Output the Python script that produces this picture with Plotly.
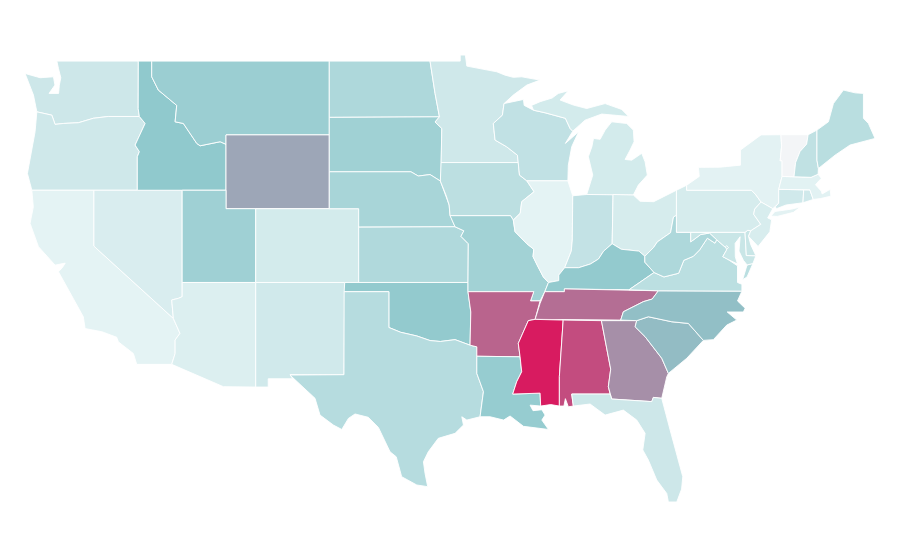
import plotly.graph_objects as go
from plotly.colors import sample_colorscale

states = ["WA","OR","CA","NV","ID","MT","WY","UT","AZ","CO","NM","ND","SD","NE","KS","OK","TX","MN","IA","MO","AR","LA","WI","IL","IN","MI","OH","KY","TN","MS","AL","GA","FL","SC","NC","VA","WV","MD","DC","DE","PA","NY","NJ","CT","RI","MA","VT","NH","ME"]
values = [16.2,15.3,6,10.9,43,38.3,55,36.5,9.5,13.5,14.8,29.9,36,32.5,29,42,26.3,15.3,23.7,35,76.5,40.5,21.5,6,20.7,13.5,12.2,41.8,73,100,84,62.5,16.2,48,47,24.1,29.9,17.9,17.9,17.9,12.2,6.5,11.3,14.8,14.8,7,0,22,25]
colorscale = [[0,"#f3f5f7"],[0.06,"#e4f3f4"],[0.44,"#8ec8cc"],[1,"#d81b60"]]

# State outlines as (longitude, latitude) rings; a state with several parts has several rings.
outlines = {
"WA":[[(-124.73,48.33),(-123.71,48.1),(-122.8,48.15),(-122.7,47.7),(-123.1,47.25),(-122.45,47.25),(-122.4,47.7),(-122.3,48.1),(-122.46,48.6),(-122.57,49),(-117.03,49),(-117.04,46.42),(-116.96,46),(-119.07,46),(-120.09,45.9),(-121.1,45.66),(-122.13,45.62),(-122.69,45.57),(-122.91,46.07),(-123.93,46.25),(-124.16,47.16),(-124.5,47.88)]],
"OR":[[(-123.93,46.25),(-122.91,46.07),(-122.69,45.57),(-122.13,45.62),(-121.1,45.66),(-120.09,45.9),(-119.07,46),(-116.96,46),(-116.57,45.62),(-117.25,44.45),(-116.96,44.09),(-117.1,43.82),(-117.1,42),(-124.27,42),(-124.57,42.91),(-124.05,45.17)]],
"CA":[[(-124.27,42),(-120.05,42),(-120.05,38.97),(-114.65,35.05),(-114.2,34.24),(-114.53,33.88),(-114.53,33.15),(-114.76,32.56),(-117.14,32.56),(-117.37,33.15),(-118.39,33.78),(-118.5,34.03),(-119.51,34.33),(-120.65,34.5),(-120.77,35.14),(-121.8,36.6),(-122.13,37.04),(-122.46,37.58),(-122.2,37.8),(-122.0,38.05),(-122.69,37.94),(-123.82,38.94),(-124.39,40.2),(-124.17,41.1)]],
"NV":[[(-120.05,42),(-114.05,42),(-114.05,36.23),(-114.3,36.14),(-114.76,36.05),(-114.65,35.05),(-120.05,38.97)]],
"ID":[[(-117.03,49),(-116.12,49),(-116.12,48.15),(-115.67,47.43),(-114.99,46.98),(-114.42,46.6),(-114.53,45.71),(-113.97,45.62),(-113.06,44.54),(-112.83,44.41),(-111.47,44.63),(-111.07,44.49),(-111.07,42),(-117.1,42),(-117.1,43.82),(-116.96,44.09),(-117.25,44.45),(-116.57,45.62),(-116.96,46),(-117.04,46.42)]],
"MT":[[(-116.12,49),(-104.05,49),(-104.05,45),(-111.07,45),(-111.07,44.49),(-111.47,44.63),(-112.83,44.41),(-113.06,44.54),(-113.97,45.62),(-114.53,45.71),(-114.42,46.6),(-114.99,46.98),(-115.67,47.43),(-116.12,48.15)]],
"WY":[[(-111.07,45),(-104.05,45),(-104.05,41),(-111.07,41)]],
"UT":[[(-114.05,42),(-111.07,42),(-111.07,41),(-109.05,41),(-109.05,37),(-114.05,37)]],
"AZ":[[(-114.05,37),(-109.05,37),(-109.05,31.33),(-111.25,31.35),(-114.76,32.56),(-114.53,33.15),(-114.53,33.88),(-114.2,34.24),(-114.65,35.05),(-114.76,36.05),(-114.3,36.14),(-114.05,36.23)]],
"CO":[[(-109.05,41),(-102.05,41),(-102.05,37),(-109.05,37)]],
"NM":[[(-109.05,37),(-103,37),(-103.05,32),(-106.72,32),(-106.53,31.78),(-108.2,31.78),(-108.2,31.33),(-109.05,31.33)]],
"ND":[[(-104.05,49),(-97.2,49),(-96.86,47.25),(-96.56,45.98),(-104.05,45.95)]],
"SD":[[(-104.05,45.95),(-96.56,45.98),(-96.86,45.7),(-96.4,45.35),(-96.45,43),(-96.5,42.5),(-97.2,42.85),(-98,42.77),(-98.5,43),(-104.05,43)]],
"NE":[[(-104.05,43),(-98.5,43),(-98,42.77),(-97.2,42.85),(-96.5,42.5),(-96.1,41.7),(-95.9,41.2),(-95.84,40.65),(-95.5,40.02),(-102.05,40),(-102.05,41),(-104.05,41)]],
"KS":[[(-102.05,40),(-95.5,40.02),(-94.9,39.8),(-95.1,39.5),(-94.6,39.1),(-94.62,37),(-102.05,37)]],
"OK":[[(-103,37),(-94.62,37),(-94.62,36.5),(-94.43,35.4),(-94.48,33.6),(-95.5,33.9),(-96.5,33.8),(-97.2,33.85),(-98.1,34.1),(-99.2,34.3),(-100,34.56),(-100,36.5),(-103.04,36.5)]],
"TX":[[(-103.04,36.5),(-100,36.5),(-100,34.56),(-99.2,34.3),(-98.1,34.1),(-97.2,33.85),(-96.5,33.8),(-95.5,33.9),(-94.48,33.6),(-94.02,33.51),(-94.02,32.07),(-93.57,31.08),(-93.8,29.72),(-94.7,29.54),(-95.04,29.72),(-94.93,29.27),(-95.5,28.82),(-96.64,28.55),(-97.32,27.82),(-97.65,27.28),(-97.54,26.65),(-97.36,25.93),(-98.1,26.02),(-99.13,26.47),(-99.5,27.55),(-99.92,27.82),(-100.71,29.14),(-101.4,29.69),(-102.3,29.87),(-102.75,29.63),(-103.2,29.03),(-103.77,29.27),(-104.68,29.81),(-105.02,30.72),(-106.72,31.98),(-103.05,32)]],
"MN":[[(-97.2,49),(-95.15,49),(-95.15,49.33),(-94.8,49.33),(-94.7,48.73),(-93.8,48.6),(-92.66,48.42),(-92.1,48.24),(-91.54,48.12),(-90.97,48.15),(-89.72,47.97),(-90.62,47.7),(-91.54,47.16),(-92.17,46.7),(-92.28,46.07),(-92.9,45.62),(-92.78,44.72),(-92,44.36),(-91.26,43.9),(-91.2,43.5),(-96.45,43.5),(-96.4,45.35),(-96.86,45.7),(-96.56,45.98),(-96.86,47.25)]],
"IA":[[(-96.45,43.5),(-91.2,43.5),(-91.12,42.82),(-90.62,42.51),(-90.13,41.92),(-90.97,41.38),(-91.07,40.75),(-91.54,40.38),(-91.73,40.62),(-95.84,40.62),(-95.9,41.2),(-96.1,41.7),(-96.5,42.5),(-96.45,43)]],
"MO":[[(-95.84,40.62),(-91.73,40.62),(-91.54,40.38),(-91.42,39.75),(-90.62,39.1),(-90.15,38.8),(-90.2,38.4),(-89.9,37.9),(-89.5,37.3),(-89.15,37),(-89.4,36.5),(-89.72,36),(-90.37,36),(-90.15,36.5),(-94.62,36.5),(-94.62,37),(-94.6,39.1),(-95.1,39.5),(-94.9,39.8),(-95.5,40.02)]],
"AR":[[(-94.62,36.5),(-90.15,36.5),(-90.37,36),(-89.72,36),(-90.06,35),(-90.52,34.93),(-91.2,33.7),(-91.08,32.97),(-94.02,33),(-94.02,33.51),(-94.48,33.6),(-94.43,35.4)]],
"LA":[[(-94.02,33),(-91.08,32.97),(-90.97,32.16),(-91.31,31.62),(-91.58,30.95),(-89.72,31),(-89.68,30.3),(-90.4,30.35),(-90.2,30.05),(-89.6,30.1),(-89.38,29.81),(-89.6,29.54),(-89.15,29.03),(-90.05,29.14),(-90.85,29.2),(-91.76,29.76),(-92.2,29.54),(-93.12,29.72),(-93.8,29.72),(-93.57,31.08),(-94.02,32.07)]],
"WI":[[(-92.17,46.7),(-90.85,46.92),(-90.8,46.6),(-90.17,46.34),(-89.38,46.2),(-88,45.9),(-87.68,45.35),(-87.5,45.2),(-88,44.54),(-87.1,45.17),(-87.57,44.36),(-87.8,43.36),(-87.83,42.51),(-90.62,42.51),(-91.12,42.82),(-91.2,43.5),(-91.26,43.9),(-92,44.36),(-92.78,44.72),(-92.9,45.62),(-92.28,46.07)]],
"IL":[[(-90.62,42.51),(-87.83,42.51),(-87.5,41.7),(-87.53,39.3),(-87.6,38.7),(-87.95,38),(-88.05,37.8),(-88.45,37.4),(-88.45,37.1),(-89.15,37),(-89.5,37.3),(-89.9,37.9),(-90.2,38.4),(-90.15,38.8),(-90.62,39.1),(-91.42,39.75),(-91.54,40.38),(-91.07,40.75),(-90.97,41.38),(-90.13,41.92)]],
"IN":[[(-87.5,41.7),(-86.55,41.77),(-84.76,41.77),(-84.82,39.1),(-85.4,38.7),(-85.75,38.27),(-86.3,38),(-87.1,37.8),(-88.05,37.8),(-87.95,38),(-87.6,38.7),(-87.53,39.3)]],
"MI":[[(-86.55,41.77),(-84.76,41.77),(-83.38,41.74),(-83.04,42.28),(-82.43,42.82),(-82.58,43.54),(-82.81,44),(-83.49,43.63),(-83.94,43.67),(-83.6,44.18),(-83.33,44.63),(-83.38,45.26),(-83.83,45.62),(-84.85,45.71),(-85.3,45.26),(-85.64,44.76),(-86.09,44.81),(-86.2,44.36),(-86.44,43.82),(-86.14,42.82)],[(-90.3,46.6),(-89.72,46.8),(-88.9,47),(-88.48,47.25),(-87.8,47.39),(-88.36,46.89),(-87.46,46.62),(-86.55,46.43),(-85.3,46.7),(-84.17,46.38),(-83.7,46),(-84.85,46.07),(-85.53,46.13),(-86.66,45.8),(-87.5,45.2),(-87.68,45.35),(-88,45.9),(-89.38,46.2),(-90.17,46.34)]],
"OH":[[(-84.76,41.77),(-83.38,41.74),(-82.92,41.4),(-82,41.38),(-80.45,42),(-80.45,40.64),(-80.65,40.55),(-80.85,39.7),(-81.75,39.2),(-82,38.9),(-82.6,38.42),(-83,38.7),(-84.2,38.8),(-84.82,39.1)]],
"KY":[[(-89.4,36.5),(-89.15,37),(-88.45,37.1),(-88.45,37.4),(-88.05,37.8),(-87.1,37.8),(-86.3,38),(-85.75,38.27),(-85.4,38.7),(-84.82,39.1),(-84.2,38.8),(-83,38.7),(-82.6,38.42),(-82.6,38.1),(-81.97,37.54),(-83.68,36.6),(-88.07,36.65),(-88.07,36.5)]],
"TN":[[(-90.06,35),(-89.72,35.87),(-89.4,36.5),(-88.07,36.5),(-88.07,36.65),(-83.68,36.6),(-81.68,36.55),(-82.1,36.1),(-82.7,35.96),(-84.06,35.41),(-84.24,34.96)]],
"MS":[[(-90.06,35),(-88.15,34.96),(-88.41,31.9),(-88.41,30.3),(-89.0,30.38),(-89.68,30.3),(-89.72,31),(-91.58,30.95),(-91.31,31.62),(-90.97,32.16),(-91.08,32.97),(-91.2,33.7),(-90.52,34.93)]],
"AL":[[(-88.15,34.96),(-85.55,34.93),(-84.92,32.3),(-85.08,31.35),(-84.96,30.95),(-87.57,30.95),(-87.46,30.3),(-87.8,30.26),(-88,30.7),(-88.1,30.3),(-88.41,30.3),(-88.41,31.9)]],
"GA":[[(-85.55,34.93),(-83.15,34.93),(-83.26,34.6),(-82.58,34.06),(-81.45,32.89),(-81,32.07),(-81.11,31.88),(-81.45,30.72),(-82.02,30.77),(-82.13,30.54),(-84.85,30.68),(-84.96,30.95),(-85.08,31.35),(-84.92,32.3)]],
"FL":[[(-87.57,30.95),(-84.96,30.95),(-84.85,30.68),(-82.13,30.54),(-82.02,30.77),(-81.45,30.72),(-80.88,29),(-80.32,27.28),(-80.02,26.47),(-80.1,25.8),(-80.43,25.1),(-81,25.1),(-81.11,25.56),(-81.79,26.29),(-82.36,27.37),(-82.74,27.92),(-82.58,28.82),(-83.15,29.54),(-84.06,30.08),(-85.3,29.81),(-86.32,30.41),(-87.46,30.3)]],
"SC":[[(-83.26,34.6),(-83.15,34.93),(-82.36,35.14),(-80.77,34.87),(-79.64,34.78),(-78.62,33.86),(-79.75,32.89),(-81,32.07),(-81.45,32.89),(-82.58,34.06)]],
"NC":[[(-84.24,34.96),(-84.06,35.41),(-82.7,35.96),(-82.1,36.1),(-81.68,36.55),(-76,36.53),(-76.3,36),(-75.78,35.6),(-75.9,35.4),(-77,35.4),(-76.35,34.96),(-77.03,34.69),(-77.94,33.9),(-78.62,33.86),(-79.64,34.78),(-80.77,34.87),(-82.36,35.14),(-83.15,34.93)]],
"VA":[[(-83.68,36.6),(-81.97,37.54),(-81.3,37.3),(-80.3,37.5),(-79.95,38.2),(-79.3,38.42),(-78.87,38.77),(-78.35,39.4),(-77.83,39.13),(-77.72,39.32),(-77.05,38.85),(-77.05,38.75),(-77.3,38.4),(-76.95,38.25),(-76.3,37.9),(-76.3,37),(-76,36.9),(-76,36.53),(-81.68,36.55)],[(-75.95,37.15),(-75.65,37.95),(-75.25,38.03),(-75.65,37.3)]],
"WV":[[(-82.6,38.42),(-82,38.9),(-81.75,39.2),(-80.85,39.7),(-80.65,40.55),(-80.45,40.64),(-80.45,39.72),(-79.48,39.72),(-79.48,39.2),(-78.8,39.6),(-78.2,39.68),(-77.72,39.32),(-77.83,39.13),(-78.35,39.4),(-78.87,38.77),(-79.3,38.42),(-79.95,38.2),(-80.3,37.5),(-81.3,37.3),(-81.97,37.54),(-82.6,38.1)]],
"MD":[[(-79.48,39.72),(-75.79,39.72),(-75.7,38.46),(-75.05,38.45),(-75.25,38.03),(-75.65,37.95),(-75.9,38.2),(-76.2,38.7),(-76.12,39.48),(-76.46,39.12),(-76.45,38.4),(-76.3,38),(-76.95,38.25),(-77.3,38.4),(-77.05,38.75),(-77.05,38.85),(-77.72,39.32),(-78.2,39.68),(-78.8,39.6),(-79.48,39.2)]],
"DC":[[(-77.12,38.93),(-77.04,39),(-76.91,38.89),(-77.04,38.79)]],
"DE":[[(-75.79,39.72),(-75.6,39.83),(-75.4,39.8),(-75.55,39.5),(-75.4,39.05),(-75.05,38.45),(-75.7,38.46)]],
"PA":[[(-80.45,42),(-79.76,42.27),(-79.76,42),(-75.35,42),(-75.05,41.75),(-74.7,41.36),(-75.13,40.98),(-75.2,40.7),(-74.72,40.15),(-75.4,39.8),(-75.6,39.83),(-75.79,39.72),(-80.45,39.72)]],
"NY":[[(-79.76,42),(-79.76,42.27),(-78.9,42.75),(-78.96,43.24),(-77.5,43.25),(-76.1,43.36),(-76.1,44.18),(-74.88,44.9),(-74.7,45),(-73.35,45.01),(-73.3,44.4),(-73.4,43.6),(-73.27,43.6),(-73.27,42.75),(-73.5,42.05),(-73.5,41.3),(-73.73,41.1),(-73.9,41),(-74.7,41.36),(-75.05,41.75),(-75.35,42)],[(-74.03,40.6),(-73.75,40.85),(-72.6,40.98),(-72,41.1),(-72.5,40.8),(-73.6,40.58)]],
"NJ":[[(-74.7,41.36),(-73.9,41),(-74.25,40.5),(-73.98,40.4),(-74.1,39.75),(-74.9,38.95),(-75.55,39.5),(-75.4,39.8),(-74.72,40.15),(-75.2,40.7),(-75.13,40.98)]],
"CT":[[(-73.5,42.05),(-71.8,42.02),(-71.85,41.32),(-73,41.2),(-73.65,41),(-73.73,41.1),(-73.5,41.3)]],
"RI":[[(-71.8,42.02),(-71.38,42.02),(-71.15,41.5),(-71.85,41.32)]],
"MA":[[(-73.5,42.05),(-73.27,42.75),(-71.3,42.7),(-70.82,42.87),(-70.6,42.65),(-71,42.3),(-70.6,41.95),(-70.55,41.8),(-70,42.05),(-69.95,41.68),(-70.65,41.55),(-71.15,41.5),(-71.38,42.02),(-71.8,42.02)]],
"VT":[[(-73.35,45.01),(-71.5,45.01),(-71.6,44.5),(-72.05,44.1),(-72.35,43.5),(-72.46,42.73),(-73.27,42.75),(-73.27,43.6),(-73.4,43.6),(-73.3,44.4)]],
"NH":[[(-71.5,45.01),(-70.9,45.26),(-70.9,43.63),(-70.8,43.18),(-70.82,42.87),(-71.3,42.7),(-72.46,42.73),(-72.35,43.5),(-72.05,44.1),(-71.6,44.5)]],
"ME":[[(-70.9,45.26),(-70.12,45.71),(-69.78,46.7),(-69.1,47.43),(-68.3,47.28),(-67.74,47.25),(-67.74,45.9),(-67.4,45.62),(-66.95,44.81),(-68.65,44.45),(-69.67,43.9),(-70.8,43.18),(-70.9,43.63)]],
}

fig = go.Figure()
for st, v in zip(states, values):
    xs, ys = [], []
    for ring in outlines[st]:
        ring = ring + ring[:1]
        xs += [p[0] for p in ring] + [None]
        ys += [p[1] for p in ring] + [None]
    fig.add_trace(go.Scatter(x=xs, y=ys, mode="lines", fill="toself", name=st, text=f"{st}: {v}", hoverinfo="text",
        fillcolor=sample_colorscale(colorscale, v/100)[0], line=dict(color="white", width=0.9), showlegend=False))
fig.update_xaxes(visible=False, range=[-125.89,-64.71], fixedrange=True)
fig.update_yaxes(visible=False, range=[21.52,51.88], fixedrange=True)
fig.update_layout(width=900, height=560, margin=dict(l=0,r=0,t=0,b=0), paper_bgcolor="white", plot_bgcolor="white")
fig.write_html("out.html")
